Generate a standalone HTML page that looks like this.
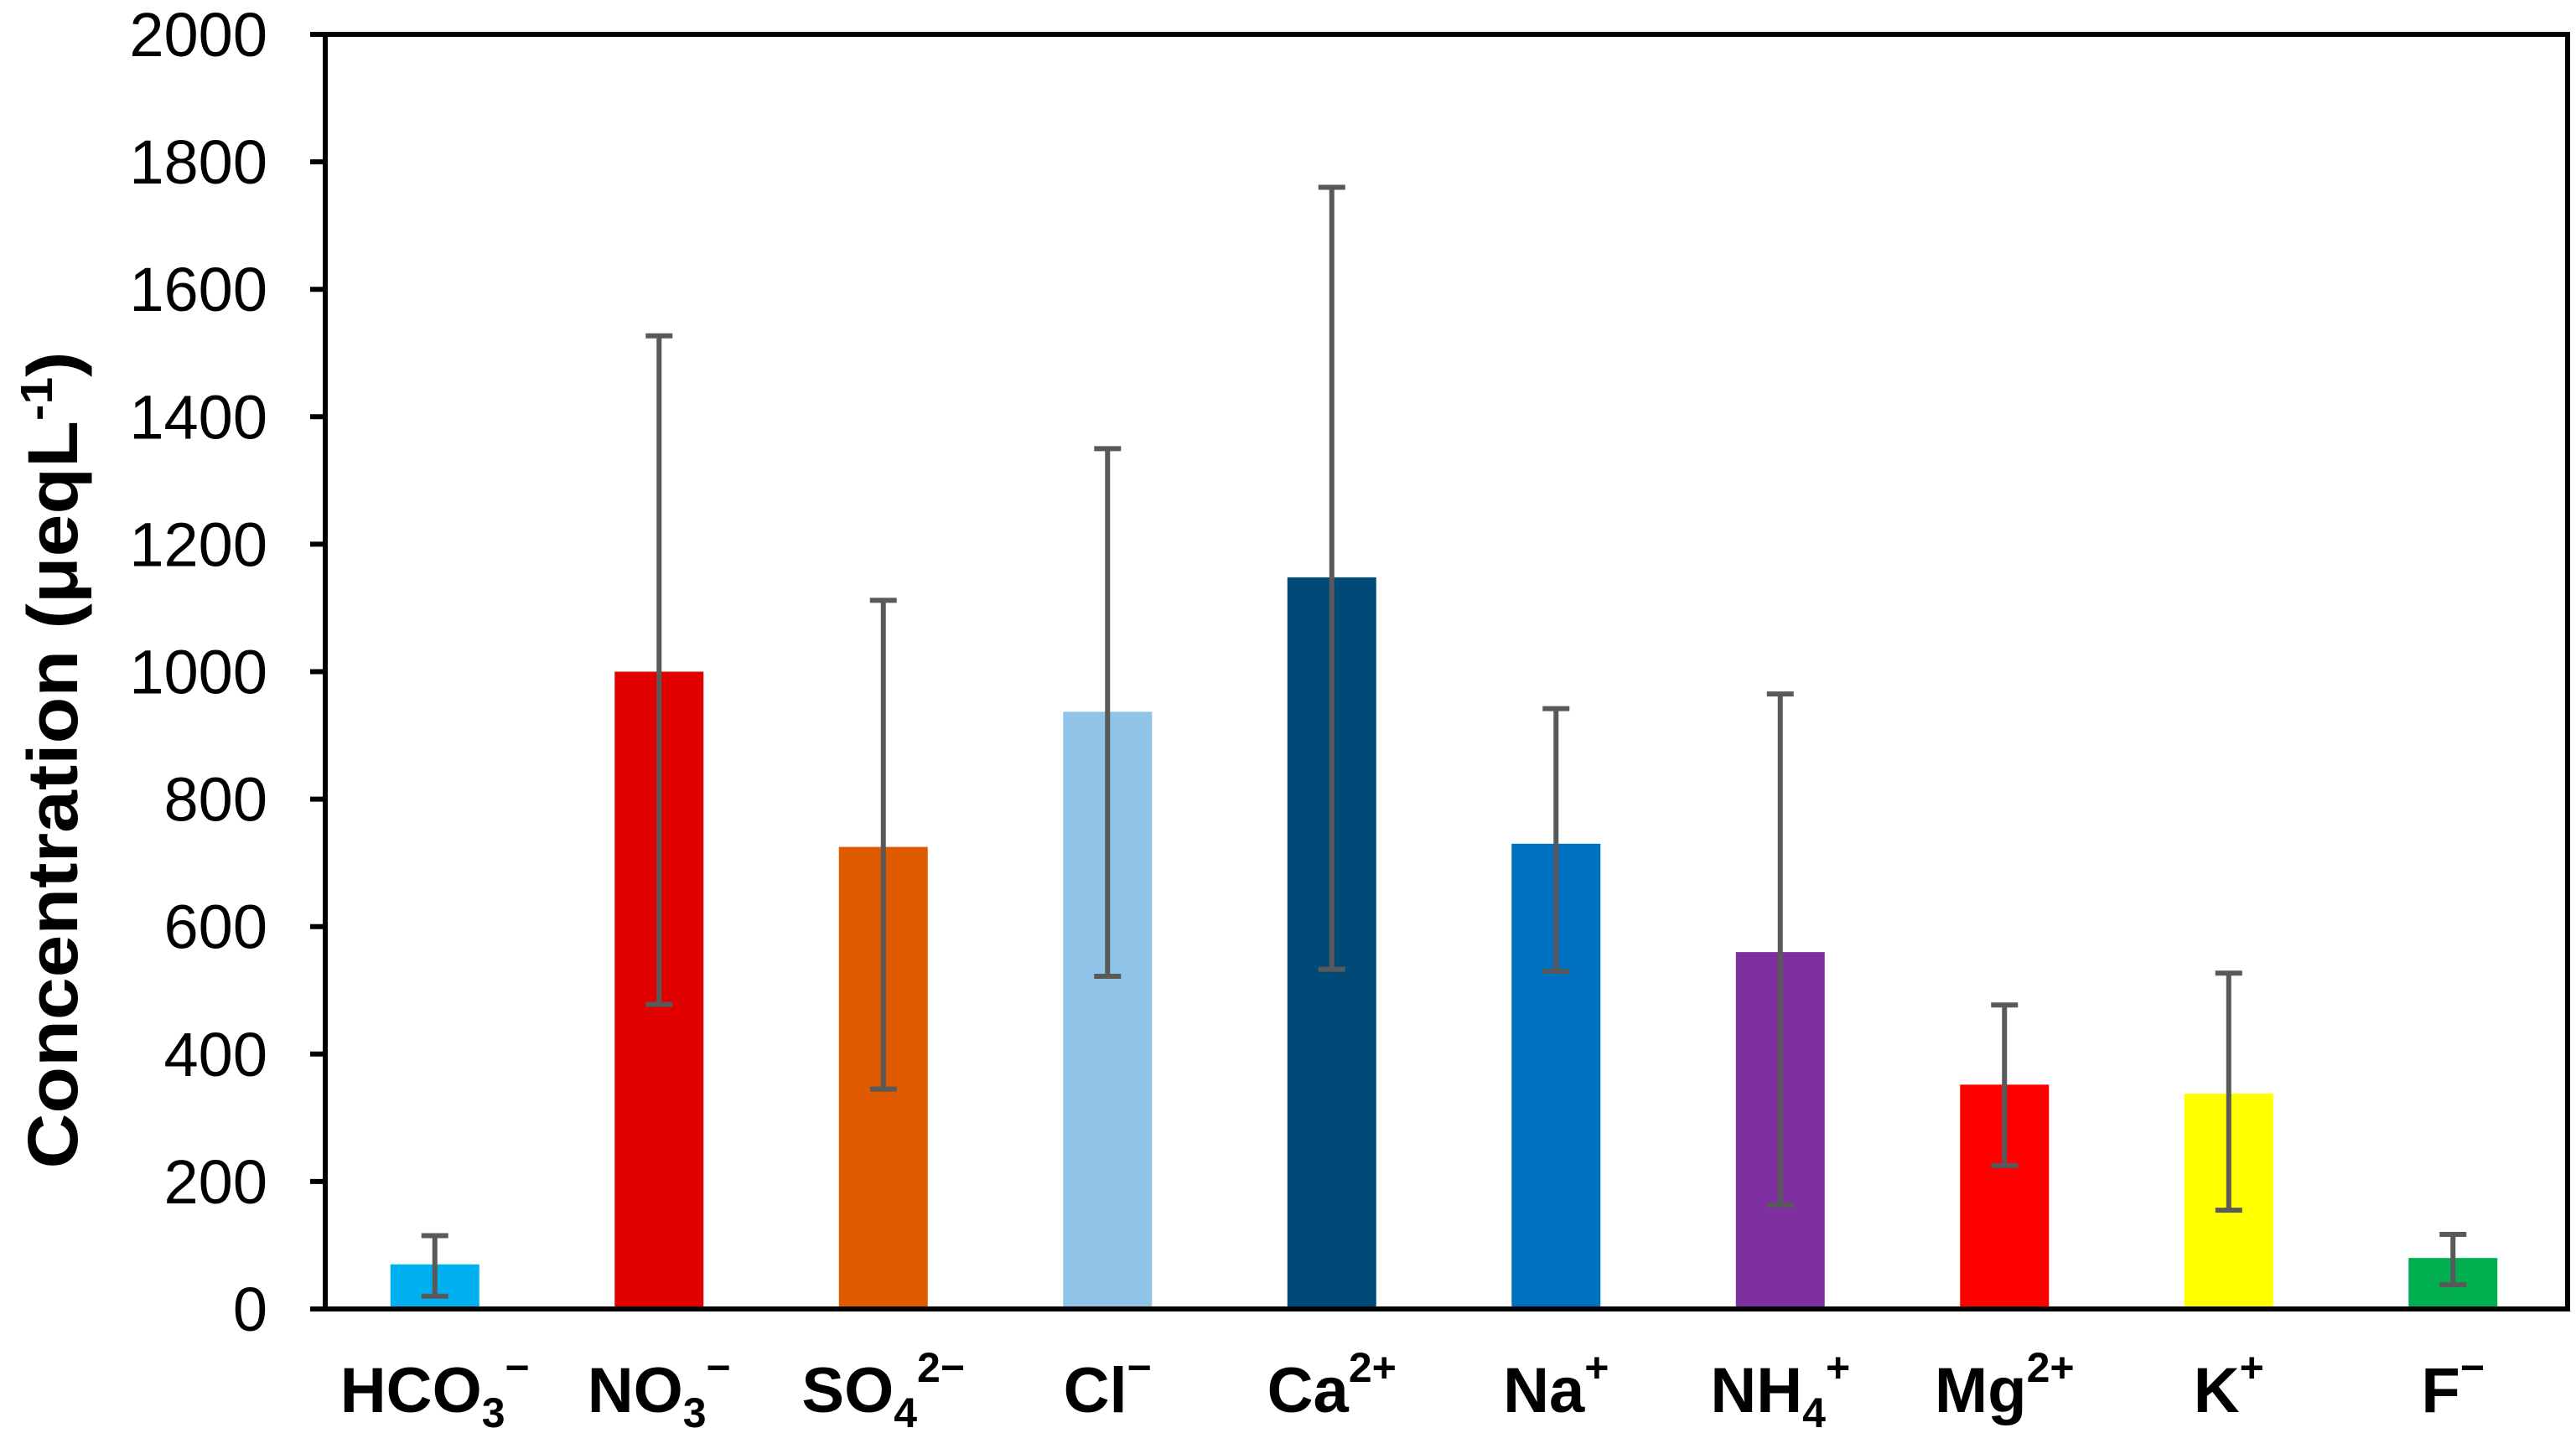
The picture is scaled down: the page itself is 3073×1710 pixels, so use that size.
<!DOCTYPE html>
<html><head><meta charset="utf-8"><style>
html,body{margin:0;padding:0;background:#fff;}
svg{display:block;}
text{font-family:"Liberation Sans",Arial,sans-serif;}
</style></head><body>
<svg id="chart" width="3073" height="1710" viewBox="0 0 3073 1710">
<rect x="0" y="0" width="3073" height="1710" fill="#fff"/>
<g id="bars"></g>
<g id="errs"></g>
<g id="axes"></g>
<g id="xlabels"></g>
<text transform="translate(92,907) rotate(-90)" text-anchor="middle" font-size="84" font-weight="bold" textLength="975" lengthAdjust="spacingAndGlyphs">Concentration (μeqL<tspan dy="-30" font-size="54">-1</tspan><tspan dy="30">)</tspan></text>
</svg>
<script>
const categories = ["HCO3-","NO3-","SO42-","Cl-","Ca2+","Na+","NH4+","Mg2+","K+","F-"];
const values = [70,1000,725,937,1148,730,560,352,338,80];
const errLow = [20,478,345,522,533,530,163,225,155,38];
const errHigh = [115,1527,1112,1350,1760,942,965,477,527,117];
const yTicks = [0,200,400,600,800,1000,1200,1400,1600,1800,2000];
const colors = ["#00B0F0","#E00000","#E05A00","#8FC4E8","#004A7A","#0070C0","#7E2FA0","#FF0000","#FFFF00","#00B050"];
const labelParts = [["HCO","3","−"],["NO","3","−"],["SO","4","2−"],["Cl","","−"],["Ca","","2+"],["Na","","+"],["NH","4","+"],["Mg","","2+"],["K","","+"],["F","","−"]];

const NS="http://www.w3.org/2000/svg";
const L=388,R=3063,T=41,B=1562,YMAX=2000;
const band=(R-L)/categories.length;
const y=v=>B-(v/YMAX)*(B-T);
const xc=i=>L+band*(i+0.5)-3;
function mk(tag,attrs,parent){const e=document.createElementNS(NS,tag);for(const k in attrs)e.setAttribute(k,attrs[k]);parent.appendChild(e);return e;}
const gb=document.getElementById('bars'),ge=document.getElementById('errs'),ga=document.getElementById('axes'),gx=document.getElementById('xlabels');
const bw=106;
categories.forEach((c,i)=>{
  const r=mk('rect',{x:xc(i)-bw/2,y:y(values[i]),width:bw,height:B-y(values[i]),fill:colors[i]},gb);
  
  
  const g=mk('g',{stroke:'#595959','stroke-width':6},ge);
  
  
  mk('line',{x1:xc(i),x2:xc(i),y1:y(errLow[i]),y2:y(errHigh[i])},g);
  mk('line',{x1:xc(i)-16,x2:xc(i)+16,y1:y(errLow[i]),y2:y(errLow[i])},g);
  mk('line',{x1:xc(i)-16,x2:xc(i)+16,y1:y(errHigh[i]),y2:y(errHigh[i])},g);
  const p=labelParts[i];
  const t=mk('text',{x:xc(i),y:1685,'text-anchor':'middle','font-size':76,'font-weight':'bold'},gx);
  
  
  const s1=mk('tspan',{},t);s1.textContent=p[0];
  if(p[1]){const s2=mk('tspan',{dy:18,'font-size':50},t);s2.textContent=p[1];}
  const s3=mk('tspan',{dy:p[1]?-54:-36,'font-size':50},t);s3.textContent=p[2];
});
const fr=mk('rect',{x:L,y:T,width:R-L,height:B-T,fill:'none',stroke:'#000','stroke-width':6},ga);


yTicks.forEach(v=>{
  const tk=mk('line',{x1:L-18,x2:L,y1:y(v),y2:y(v),stroke:'#000','stroke-width':6},ga);
  
  
  const t=mk('text',{x:319,y:y(v)+26,'text-anchor':'end','font-size':74},ga);
  
  
  t.textContent=v;
});
</script>
</body></html>
